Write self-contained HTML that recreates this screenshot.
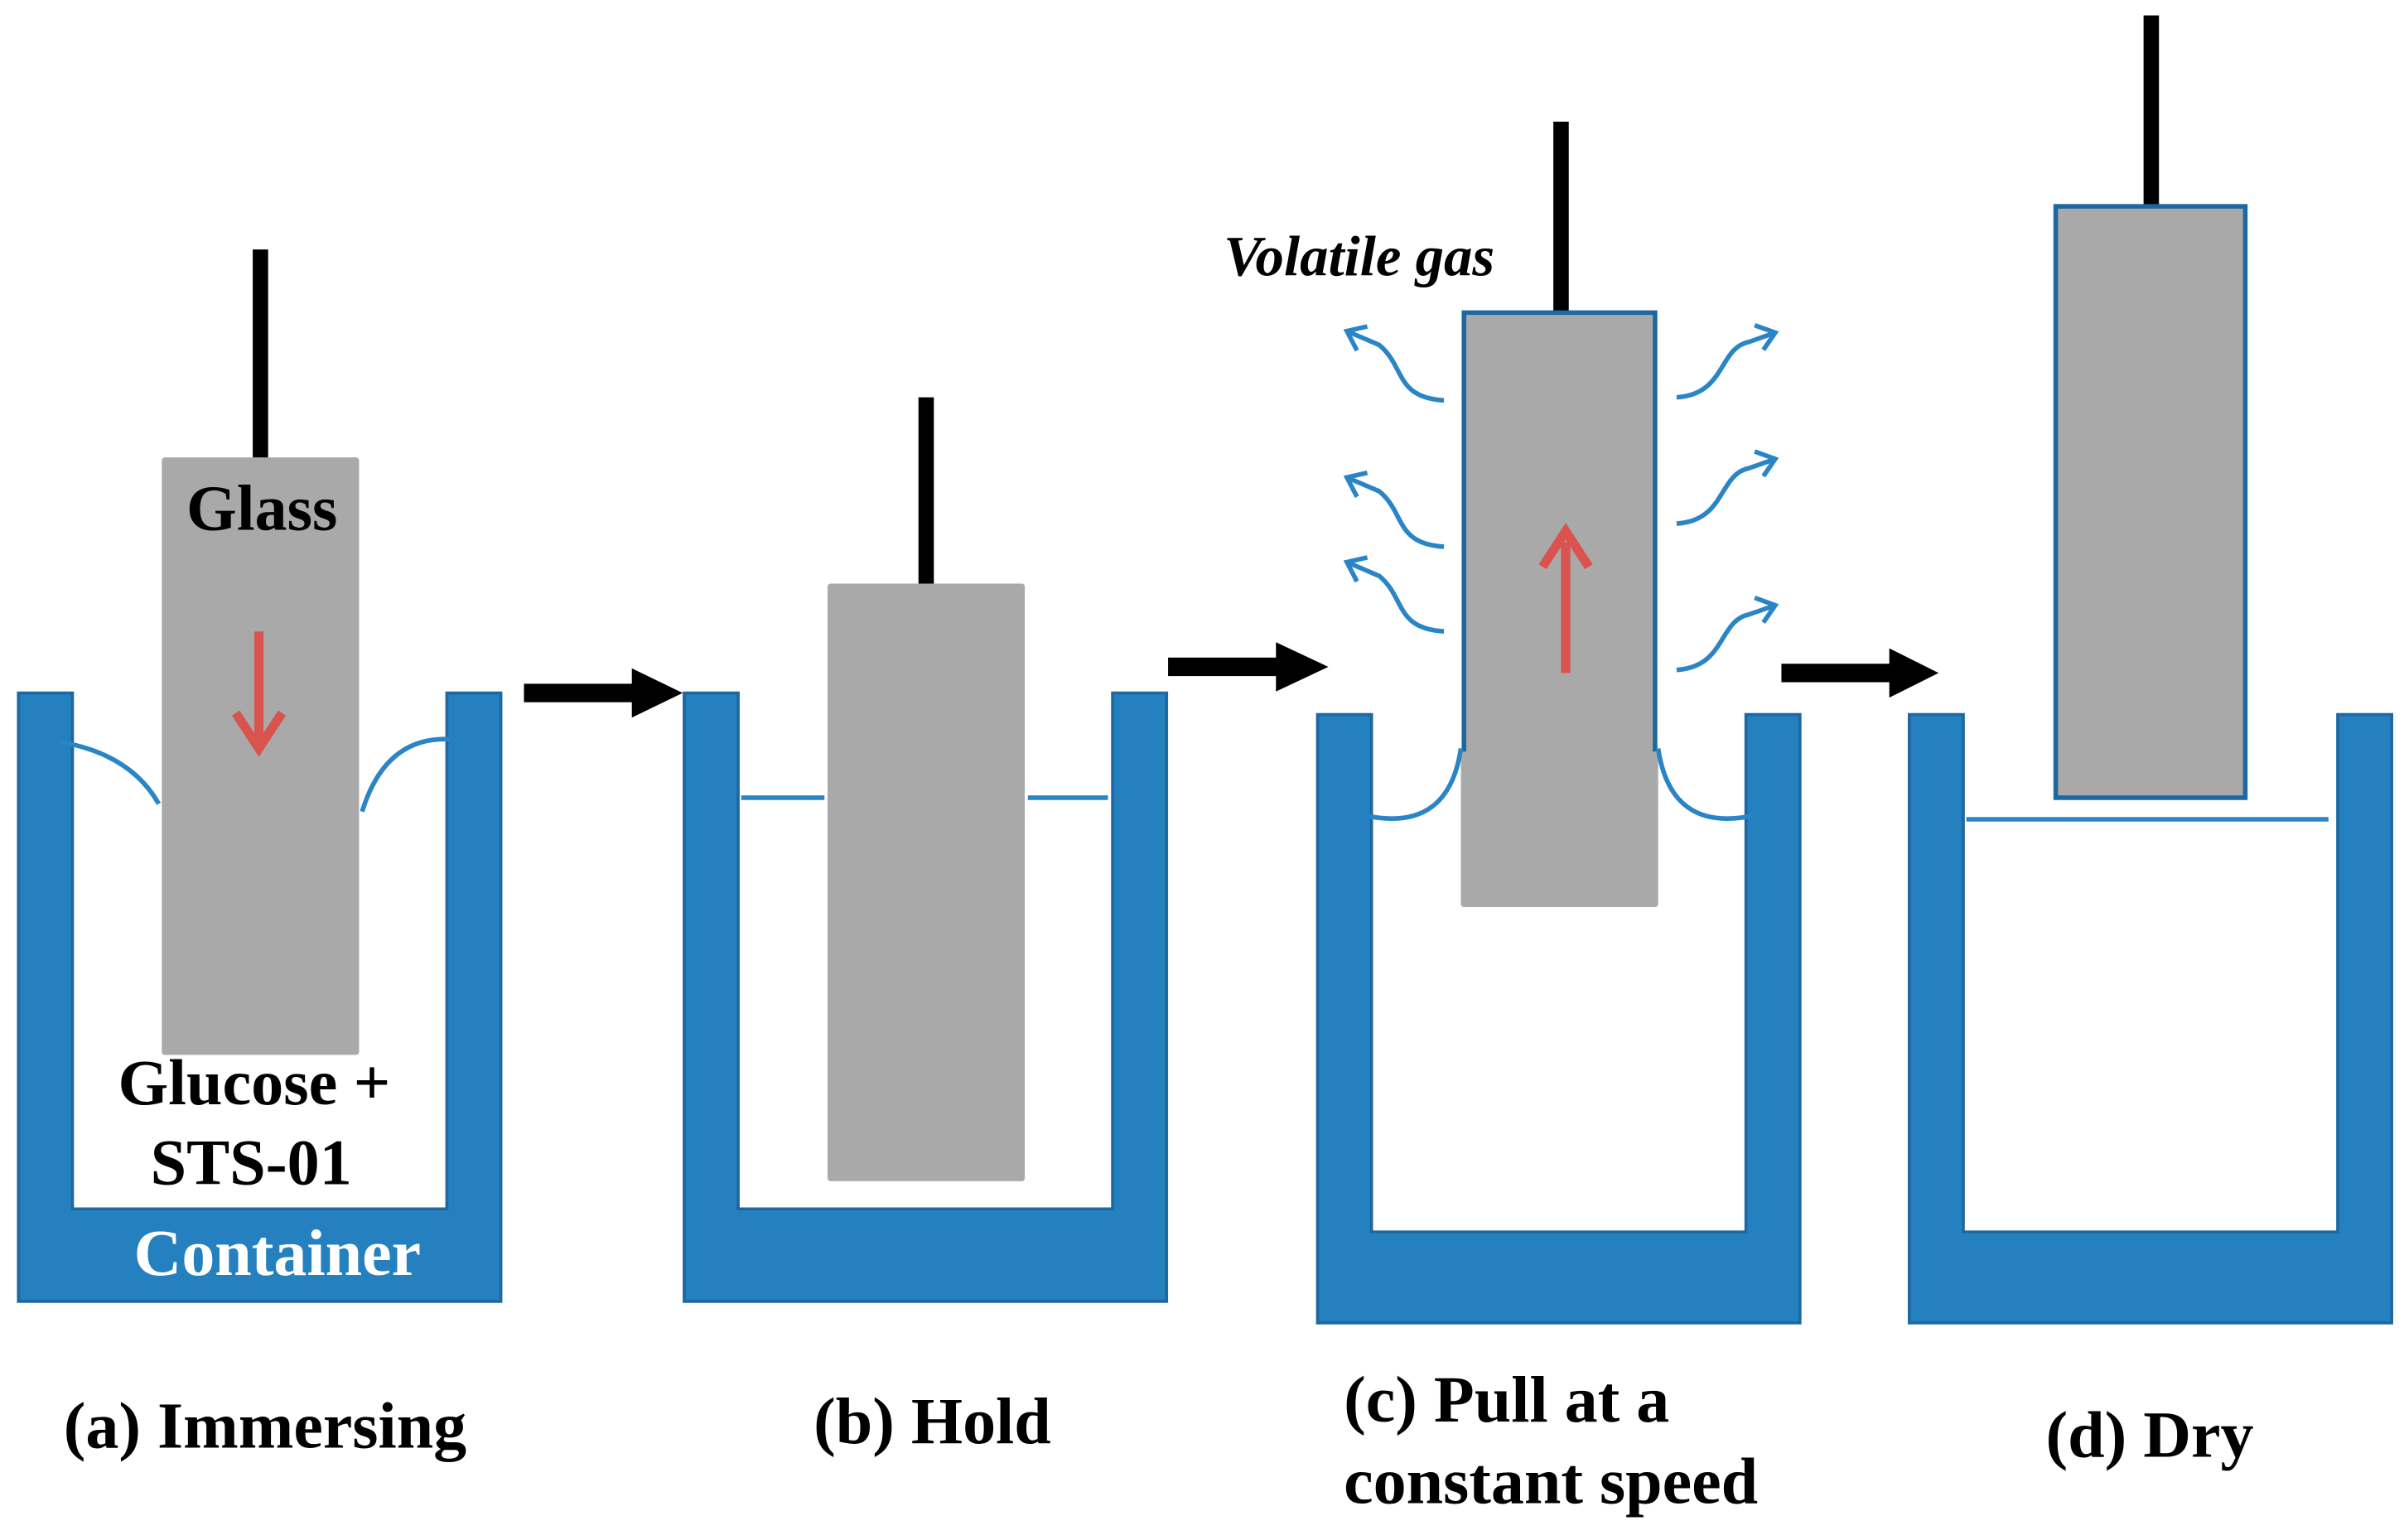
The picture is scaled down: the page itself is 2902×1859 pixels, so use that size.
<!DOCTYPE html>
<html><head><meta charset="utf-8"><style>
html,body{margin:0;padding:0;background:#fff;}
svg{display:block;}
text{font-family:"Liberation Serif",serif;font-weight:bold;}
</style></head><body>
<svg width="2902" height="1859" viewBox="0 0 1560 1000" preserveAspectRatio="none" xmlns="http://www.w3.org/2000/svg">
<defs>
<marker id="bh" markerWidth="8" markerHeight="8" refX="5" refY="4" orient="auto" markerUnits="userSpaceOnUse" overflow="visible"><path d="M-6,-5 L5,4 L-6,12" fill="none" stroke="#2a85c6" stroke-width="3"/></marker>
</defs>
<!-- containers -->
<g fill="#2580c0" stroke="#1d68a0" stroke-width="2">
<path d="M12,450 H47 V785 H290 V450 H325 V845 H12 Z"/>
<path d="M444,450 H479 V785 H722 V450 H757 V845 H444 Z"/>
<path d="M855,464 H890 V800 H1133 V464 H1168 V859 H855 Z"/>
<path d="M1239,464 H1274 V800 H1517 V464 H1552 V859 H1239 Z"/>
</g>
<!-- (a) -->
<rect x="164" y="162" width="10" height="136" fill="#000"/>
<rect x="105" y="297" width="128" height="388" rx="2" fill="#a9a9a9"/>
<path d="M40,482 Q85,490 103,522" fill="none" stroke="#2a85c6" stroke-width="3"/>
<path d="M235,527 Q250,478 292,480" fill="none" stroke="#2a85c6" stroke-width="3"/>
<line x1="168" y1="410" x2="168" y2="480" stroke="#d9534f" stroke-width="6"/>
<path d="M153,463 L168,486 L183,463" fill="none" stroke="#d9534f" stroke-width="6"/>
<text x="170" y="344" font-size="42" text-anchor="middle">Glass</text>
<text x="165" y="717" font-size="42" text-anchor="middle">Glucose +</text>
<text x="163" y="769" font-size="42" text-anchor="middle">STS-01</text>
<text x="180" y="828" font-size="43" text-anchor="middle" fill="#fff">Container</text>
<!-- arrow 1 -->
<rect x="340" y="444" width="72" height="12" fill="#000"/>
<path d="M410,434 L443,450 L410,466 Z" fill="#000"/>
<!-- (b) -->
<rect x="596" y="258" width="10" height="122" fill="#000"/>
<rect x="537" y="379" width="128" height="388" rx="2" fill="#a9a9a9"/>
<line x1="481" y1="518" x2="535" y2="518" stroke="#2a85c6" stroke-width="3"/>
<line x1="667" y1="518" x2="719" y2="518" stroke="#2a85c6" stroke-width="3"/>
<!-- arrow 2 -->
<rect x="758" y="427" width="72" height="12" fill="#000"/>
<path d="M828,417 L862,433 L828,449 Z" fill="#000"/>
<!-- (c) -->
<rect x="1008" y="79" width="10" height="124" fill="#000"/>
<rect x="948" y="485" width="128" height="104" rx="2" fill="#a9a9a9"/>
<rect x="950" y="203" width="124" height="285" fill="#a9a9a9"/>
<path d="M950,488 V203 H1074 V488" fill="none" stroke="#1d68a0" stroke-width="3"/>
<path d="M888,530 Q940,540 948,486" fill="none" stroke="#2a85c6" stroke-width="3"/>
<path d="M1076,486 Q1084,540 1136,530" fill="none" stroke="#2a85c6" stroke-width="3"/>
<line x1="1016" y1="437" x2="1016" y2="352" stroke="#d9534f" stroke-width="6"/>
<path d="M1001,368 L1016,345 L1031,368" fill="none" stroke="#d9534f" stroke-width="6"/>
<g fill="none" stroke="#2a85c6" stroke-width="3" marker-end="url(#bh)">
<path d="M937,260 C905,258 912,238 895,224 L874,215"/>
<path d="M937,355 C905,353 912,333 895,319 L874,310"/>
<path d="M937,410 C905,408 912,388 895,374 L874,365"/>
<path d="M1088,258 C1120,256 1115,226 1135,222 L1152,216"/>
<path d="M1088,340 C1120,338 1115,308 1135,304 L1152,298"/>
<path d="M1088,435 C1120,433 1115,403 1135,399 L1152,393"/>
</g>
<text x="882" y="179" font-size="37" font-style="italic" font-weight="normal" text-anchor="middle">Volatile gas</text>
<!-- arrow 3 -->
<rect x="1156" y="431" width="72" height="12" fill="#000"/>
<path d="M1226,421 L1258,437 L1226,453 Z" fill="#000"/>
<!-- (d) -->
<rect x="1391" y="10" width="10" height="124" fill="#000"/>
<rect x="1334" y="134" width="123" height="384" fill="#a9a9a9" stroke="#1d68a0" stroke-width="3"/>
<line x1="1276" y1="532" x2="1511" y2="532" stroke="#2a85c6" stroke-width="3"/>
<!-- labels -->
<text x="172" y="940" font-size="43" text-anchor="middle">(a) Immersing</text>
<text x="605" y="937" font-size="43" text-anchor="middle">(b) Hold</text>
<text x="872" y="923" font-size="43">(c) Pull at a</text>
<text x="872" y="976" font-size="43">constant speed</text>
<text x="1395" y="946" font-size="43" text-anchor="middle">(d) Dry</text>
</svg>
</body></html>
